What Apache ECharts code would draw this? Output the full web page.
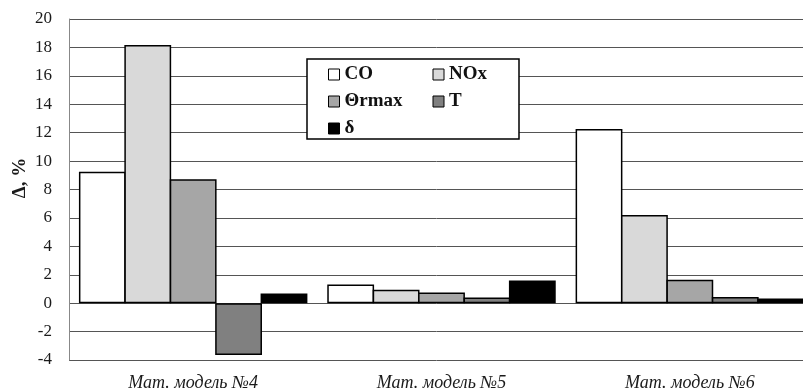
<!DOCTYPE html>
<html>
<head>
<meta charset="utf-8">
<script src="https://cdn.jsdelivr.net/npm/echarts@6/dist/echarts.min.js"></script>
<style>
  html, body { margin: 0; padding: 0; background: #fff; }
  #chart { width: 803px; height: 391px; }
</style>
</head>
<body>
<div id="chart"></div>
<script>
// Relative deviation Δ, % of each parameter for three mathematical models
const categories = ['Мат. модель №4', 'Мат. модель №5', 'Мат. модель №6'];
const seriesNames = ['CO', 'NOx', 'Θrmax', 'T', 'δ'];
const coValues    = [9.25, 1.32, 12.25];
const noxValues   = [18.17, 0.94, 6.2];
const thetaValues = [8.72, 0.75, 1.65];
const tValues     = [-3.65, 0.4, 0.44];
const deltaValues = [0.68, 1.6, 0.33];
const yTicks = { min: -4, max: 20, interval: 2 };

const fills = ['#ffffff', '#d9d9d9', '#a6a6a6', '#808080', '#000000'];
const valueSets = [coValues, noxValues, thetaValues, tValues, deltaValues];
const serif = 'Liberation Serif';

const chart = echarts.init(document.getElementById('chart'), null, { renderer: 'canvas' });

const series = seriesNames.map((name, i) => ({
  name: name,
  type: 'bar',
  data: valueSets[i],
  barGap: '-3%',
  barCategoryGap: '8%',
  itemStyle: { color: fills[i], borderColor: '#000', borderWidth: 1.5 },
  emphasis: { disabled: true }
}));

chart.setOption({
  animation: false,
  backgroundColor: '#fff',
  // the plot area runs a little past the right edge of the canvas
  grid: {
    left: 69, width: 745, top: 19, bottom: 31,
    containLabel: false,
    outerBoundsMode: 'none'
  },
  xAxis: {
    type: 'category',
    data: categories,
    axisLine: { show: false },
    axisTick: { show: false },
    axisLabel: {
      interval: 0,
      margin: 14,
      fontFamily: serif,
      fontStyle: 'italic',
      fontSize: 18,
      color: '#1a1a1a'
    }
  },
  yAxis: {
    type: 'value',
    min: yTicks.min,
    max: yTicks.max,
    interval: yTicks.interval,
    axisLine: { show: true, lineStyle: { color: '#888', width: 1 } },
    axisTick: { show: false },
    axisLabel: { margin: 17, fontFamily: serif, fontSize: 17, color: '#1a1a1a' },
    splitLine: { show: true, lineStyle: { color: '#555', width: 1 } }
  },
  legend: {
    data: seriesNames,
    left: 328,
    top: 65,
    width: 210,
    orient: 'horizontal',
    padding: 0,
    itemGap: 8,
    itemWidth: 11,
    itemHeight: 11,
    icon: 'rect',
    selectedMode: false,
    z: 6,
    itemStyle: { borderColor: '#000', borderWidth: 1 },
    formatter: '{n|{name}}',
    textStyle: {
      rich: {
        n: {
          fontFamily: serif,
          fontWeight: 'bold',
          fontSize: 19,
          lineHeight: 19,
          color: '#111',
          width: 80
        }
      }
    }
  },
  graphic: [
    {
      type: 'rect',
      z: 5,
      shape: { x: 307, y: 59, width: 212, height: 80 },
      style: { fill: '#fff', stroke: '#000', lineWidth: 1.5 }
    },
    {
      type: 'text',
      z: 5,
      x: 20,
      y: 178,
      rotation: Math.PI / 2,
      style: {
        text: 'Δ, %',
        fontFamily: serif,
        fontWeight: 'bold',
        fontSize: 19,
        fill: '#1a1a1a',
        textAlign: 'center',
        textVerticalAlign: 'middle'
      }
    }
  ],
  series: series
});
</script>
</body>
</html>
